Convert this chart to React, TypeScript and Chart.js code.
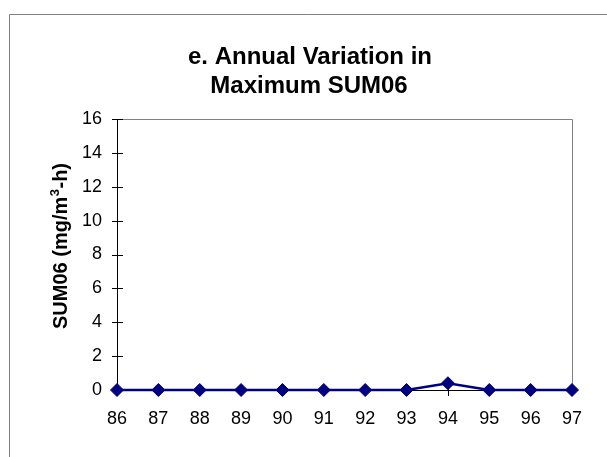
import React, { useEffect, useRef } from "react";
import { Chart, registerables } from "chart.js";

Chart.register(...registerables);

const years = ["86", "87", "88", "89", "90", "91", "92", "93", "94", "95", "96", "97"];
const maxSum06 = [0, 0, 0, 0, 0, 0, 0, 0, 0.4, 0, 0, 0];
const titleLines = ["e. Annual Variation in", "Maximum SUM06"];
const yAxisTitleParts = ["SUM06 (mg/m", "3", "-h)"];
const yMin = 0;
const yMax = 16;
const yStep = 2;

const FONT = "'Liberation Sans', Arial, Helvetica, sans-serif";

const decorPlugin = {
  id: "decor",
  beforeDraw(chart: any) {
    const ctx = chart.ctx;
    ctx.save();
    ctx.fillStyle = "#ffffff";
    ctx.fillRect(0, 0, chart.width, chart.height);
    // outer border
    ctx.strokeStyle = "#808080";
    ctx.lineWidth = 1;
    ctx.beginPath();
    ctx.moveTo(9.5, chart.height + 2);
    ctx.lineTo(9.5, 14.5);
    ctx.lineTo(chart.width + 2, 14.5);
    ctx.stroke();
    // titles
    ctx.fillStyle = "#000000";
    ctx.font = `bold 24px ${FONT}`;
    ctx.textAlign = "center";
    ctx.textBaseline = "alphabetic";
    ctx.fillText(titleLines[0], 310, 63.5);
    ctx.fillText(titleLines[1], 309, 93);
    // y axis title with superscript
    ctx.save();
    ctx.translate(67, 246);
    ctx.rotate(-Math.PI / 2);
    ctx.textAlign = "left";
    const mainFont = `bold 20px ${FONT}`;
    const supFont = `bold 13px ${FONT}`;
    ctx.font = mainFont;
    const w0 = ctx.measureText(yAxisTitleParts[0]).width;
    const w2 = ctx.measureText(yAxisTitleParts[2]).width;
    ctx.font = supFont;
    const w1 = ctx.measureText(yAxisTitleParts[1]).width + 1;
    const total = w0 + w1 + w2;
    let x = -total / 2;
    ctx.font = mainFont;
    ctx.fillText(yAxisTitleParts[0], x, 0);
    x += w0;
    ctx.font = supFont;
    ctx.fillText(yAxisTitleParts[1], x + 0.5, -8);
    x += w1;
    ctx.font = mainFont;
    ctx.fillText(yAxisTitleParts[2], x, 0);
    ctx.restore();
    ctx.restore();
  },
  beforeDatasetsDraw(chart: any) {
    const ctx = chart.ctx;
    const { left, right, top, bottom } = chart.chartArea;
    const xs = chart.scales.x;
    const ys = chart.scales.y;
    ctx.save();
    ctx.lineWidth = 1;
    // top and right gray border
    ctx.strokeStyle = "#808080";
    ctx.beginPath();
    ctx.moveTo(Math.round(left), Math.round(top) + 0.5);
    ctx.lineTo(Math.round(right) + 0.5, Math.round(top) + 0.5);
    ctx.lineTo(Math.round(right) + 0.5, Math.round(bottom));
    ctx.stroke();
    // axes black
    ctx.strokeStyle = "#000000";
    ctx.beginPath();
    ctx.moveTo(Math.round(left) + 0.5, Math.round(top));
    ctx.lineTo(Math.round(left) + 0.5, Math.round(bottom) + 1);
    ctx.moveTo(Math.round(left), Math.round(bottom) + 0.5);
    ctx.lineTo(Math.round(right) + 1, Math.round(bottom) + 0.5);
    // y ticks
    ys.ticks.forEach((t: any) => {
      const py = Math.round(ys.getPixelForValue(t.value)) + 0.5;
      ctx.moveTo(Math.round(left) - 5, py);
      ctx.lineTo(Math.round(left) + 6, py);
    });
    // x ticks
    xs.ticks.forEach((t: any, i: number) => {
      const px = Math.round(xs.getPixelForTick(i)) + 0.5;
      ctx.moveTo(px, Math.round(bottom) - 5);
      ctx.lineTo(px, Math.round(bottom) + 6);
    });
    ctx.stroke();
    ctx.restore();
  },
};

export default function App() {
  const ref = useRef<HTMLCanvasElement | null>(null);
  useEffect(() => {
    document.body.style.margin = "0";
    if (!ref.current) return;
    const chart = new Chart(ref.current, {
      type: "line",
      data: {
        labels: years,
        datasets: [
          {
            data: maxSum06,
            borderColor: "#000080",
            backgroundColor: "#000080",
            borderWidth: 2.5,
            pointStyle: "rectRot",
            pointRadius: 6.5,
            pointBorderWidth: 1,
            pointBackgroundColor: "#000080",
            pointBorderColor: "#000080",
            tension: 0,
            clip: false as any,
          },
        ],
      },
      options: {
        animation: false,
        responsive: false,
        maintainAspectRatio: false,
        events: [],
        layout: { padding: { top: 119, right: 35, left: 0, bottom: 0 } },
        plugins: {
          legend: { display: false },
          title: { display: false },
          tooltip: { enabled: false },
        },
        scales: {
          x: {
            type: "category",
            offset: false,
            grid: { display: false, drawTicks: false },
            border: { display: false },
            ticks: {
              color: "#000000",
              font: { family: FONT, size: 18 },
              padding: 18,
              maxRotation: 0,
              autoSkip: false,
            },
            afterFit(scale: any) {
              scale.height = 67;
            },
          },
          y: {
            min: yMin,
            max: yMax,
            grid: { display: false, drawTicks: false },
            border: { display: false },
            ticks: {
              stepSize: yStep,
              color: "#000000",
              font: { family: FONT, size: 18 },
              padding: 15,
            },
            afterFit(scale: any) {
              scale.width = 117;
            },
          },
        },
      },
      plugins: [decorPlugin],
    });
    return () => chart.destroy();
  }, []);
  return (
    <div style={{ width: 607, height: 457 }}>
      <canvas ref={ref} width={607} height={457} style={{ display: "block", width: 607, height: 457 }} />
    </div>
  );
}
